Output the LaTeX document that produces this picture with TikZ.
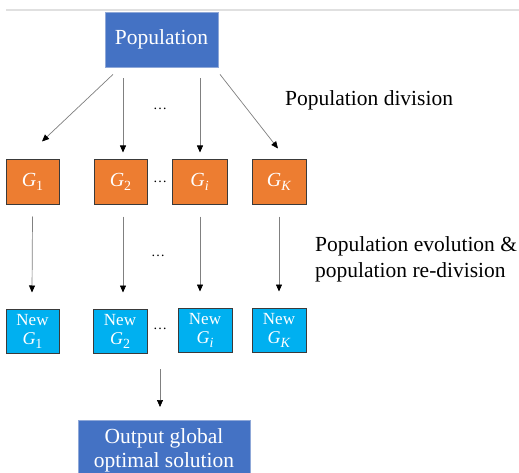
\documentclass[tikz,border=0pt]{standalone}
\usepackage{fontspec}
\setmainfont{Liberation Serif}
\newfontfamily\tnr{Liberation Serif}
\usetikzlibrary{arrows.meta}
\definecolor{popblue}{HTML}{4472C4}
\definecolor{gorange}{HTML}{ED7D31}
\definecolor{newcyan}{HTML}{00B0F0}
\definecolor{boxedge}{HTML}{3A3A3A}
\definecolor{blueedge}{HTML}{8FA8D8}
\newcommand{\gsym}[1]{\textit{G}\raisebox{-0.22em}{\fontsize{14}{14}\selectfont\textit{#1}}}
\newcommand{\gnum}[1]{\textit{G}\raisebox{-0.22em}{\fontsize{14}{14}\selectfont #1}}
\tikzset{
  popbox/.style={fill=popblue, draw=blueedge, line width=0.8pt, text=white, font=\tnr\fontsize{21.5}{24}\selectfont, inner sep=0pt, align=center},
  gbox/.style={fill=gorange, draw=boxedge, line width=1pt, text=white, font=\tnr\fontsize{20}{20}\selectfont, minimum height=44pt, inner sep=0pt},
  newbox/.style={fill=newcyan, draw=boxedge, line width=1pt, text=white, font=\tnr\fontsize{17}{21}\selectfont, minimum height=44pt, inner sep=0pt, align=center},
  arr/.style={draw=gray, line width=0.7pt, -{Triangle[length=7pt,width=6pt,color=black]}},
  lbl/.style={font=\tnr\fontsize{21.5}{26}\selectfont, align=left, inner sep=0pt},
  dots/.style={font=\tnr\fontsize{14}{16}\selectfont, inner sep=0pt}
}
\begin{document}
\begin{tikzpicture}[x=1pt,y=-1pt]
\useasboundingbox (0,0) rectangle (519,473);
\clip (0,0) rectangle (519,473);
\fill[white] (0,0) rectangle (519,473);
\coordinate (lineL) at (6,10);
\coordinate (lineR) at (519,10);
\draw[color=black!12, line width=1.5pt] (lineL) -- (lineR);

\node[popbox, minimum width=113pt, minimum height=55pt] (pop) at (161.5,39.5) {Population};

\node[gbox, minimum width=53pt] (g1) at (32.5,182) {\gnum{1}};
\node[gbox, minimum width=53pt] (g2) at (120.5,182) {\gnum{2}};
\node[gbox, minimum width=55pt] (gi) at (199.5,182) {\gsym{i}};
\node[gbox, minimum width=54pt] (gk) at (279,182) {\gsym{K}};

\node[newbox, minimum width=53pt] (n1) at (32.5,331) {New\\[-2pt]{\fontsize{18}{18}\selectfont\gnum{1}}};
\node[newbox, minimum width=54pt] (n2) at (120,331.5) {New\\[-2pt]{\fontsize{18}{18}\selectfont\gnum{2}}};
\node[newbox, minimum width=54pt] (ni) at (205,330) {New\\[-2pt]{\fontsize{18}{18}\selectfont\gsym{i}}};
\node[newbox, minimum width=54pt] (nk) at (279,330) {New\\[-2pt]{\fontsize{18}{18}\selectfont\gsym{K}}};

\node[popbox, minimum width=172pt, minimum height=60pt, anchor=north] (out) at (164,420) {Output global\\optimal solution};

\node[dots] (d1) at (160,109) {\dots};
\node[dots] (d2) at (160,182) {\dots};
\node[dots] (d3) at (158,256) {\dots};
\node[dots] (d4) at (160,329) {\dots};

\node[lbl, anchor=west] (l1) at (285,100) {Population division};
\node[lbl, anchor=west] (l2) at (315,259) {Population evolution \&\\population re-division};

% population division arrows
\draw[arr] ([xshift=-48.5pt,yshift=-7pt]pop.south) -- ([xshift=9.5pt,yshift=18pt]g1.north);
\draw[arr] ([xshift=-38.5pt,yshift=-11pt]pop.south) -- ([xshift=2.5pt,yshift=7pt]g2.north);
\draw[arr] ([xshift=38.5pt,yshift=-11pt]pop.south) -- ([xshift=0.5pt,yshift=7pt]gi.north);
\draw[arr] ([xshift=58.5pt,yshift=-7pt]pop.south) -- ([xshift=-1pt,yshift=11pt]gk.north);

% evolution arrows
\draw[arr] ([yshift=-12pt]g1.south) -- ([xshift=-0.5pt,yshift=16pt]n1.north);
\draw[arr] ([xshift=2.5pt,yshift=-12pt]g2.south) -- ([xshift=3pt,yshift=16.5pt]n2.north);
\draw[arr] ([xshift=0.5pt,yshift=-12pt]gi.south) -- ([xshift=-5pt,yshift=16pt]ni.north);
\draw[arr] ([yshift=-12pt]gk.south) -- ([yshift=16pt]nk.north);

% output arrow
\coordinate (outstart) at (160,369);
\draw[arr] (outstart) -- ([xshift=-4pt,yshift=13pt]out.north);
\end{tikzpicture}
\end{document}
